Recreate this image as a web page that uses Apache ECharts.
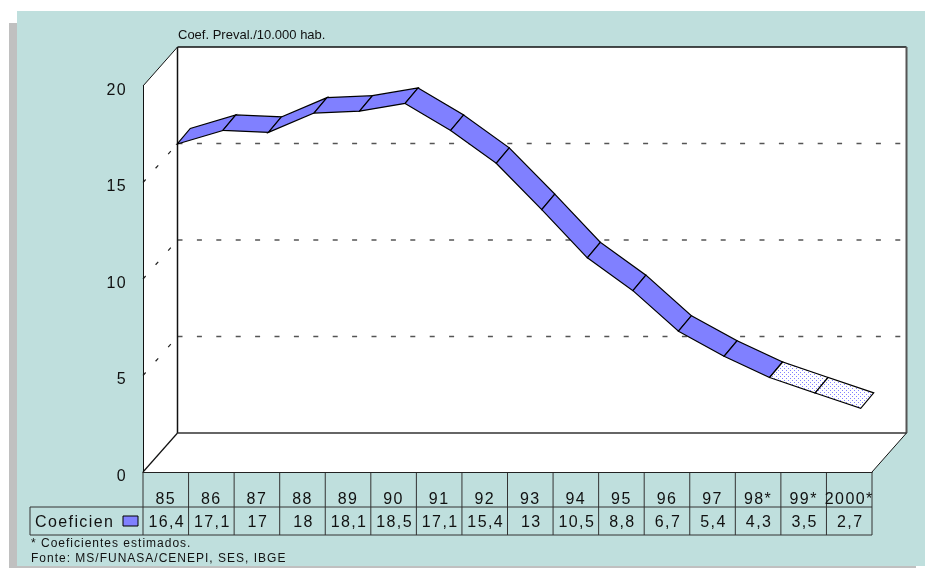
<!DOCTYPE html>
<html><head><meta charset="utf-8">
<style>html,body{margin:0;padding:0;background:#fff}#c{width:930px;height:568px}</style>
<script src="https://cdn.jsdelivr.net/npm/echarts@6/dist/echarts.min.js"></script>
</head><body><div id="c"></div>
<script>
const categories = ['85','86','87','88','89','90','91','92','93','94','95','96','97','98*','99*','2000*'];
const values = [16.4,17.1,17,18,18.1,18.5,17.1,15.4,13,10.5,8.8,6.7,5.4,4.3,3.5,2.7];
const valueLabels = ['16,4','17,1','17','18','18,1','18,5','17,1','15,4','13','10,5','8,8','6,7','5,4','4,3','3,5','2,7'];
const estimatedFrom = 13;
const wallGridValues = [5,10,15];
const seriesName = 'Coeficien';

// wide tracking of the original's stretched text, keyed by font size
const spacing = {16:'1.4px',13:'0px',12:'1px'};
const P = CanvasRenderingContext2D.prototype, ft = P.fillText, mt = P.measureText;
function track(c){const m=/(\d+(?:\.\d+)?)px/.exec(c.font);c.letterSpacing=(m&&spacing[+m[1]])||'0px';}
P.fillText=function(){track(this);return ft.apply(this,arguments);};
P.measureText=function(){track(this);return mt.apply(this,arguments);};

const DX=34.5, DY=39;
const FRONT=[11.5,-11.5], BACK=[24.5,-27];
const ROW1=35, ROW2=63, LABEL_LEFT=30;
const BLUE='#8080FF', TEAL='#BFDFDD', FONT='"Liberation Sans",Arial,sans-serif';

const pat=document.createElement('canvas');pat.width=pat.height=4;
const pc=pat.getContext('2d');pc.fillStyle='#fff';pc.fillRect(0,0,4,4);pc.fillStyle=BLUE;pc.fillRect(0,0,1,1);pc.fillRect(2,2,1,1);

const line=(x1,y1,x2,y2,stroke,lineWidth,extra)=>({type:'line',shape:{x1,y1,x2,y2},style:Object.assign({stroke,lineWidth:lineWidth||1,fill:null},extra||{})});
const poly=(points,fill,stroke)=>({type:'polygon',shape:{points},style:{fill,stroke:stroke||null,lineWidth:1.2,lineJoin:'miter'}});

function renderWalls(p,api){
  const n=categories.length, bw=api.size([1,0])[0];
  const a=api.coord([0,0]), b=api.coord([n-1,20]);
  const L=a[0]-bw/2, R=b[0]+bw/2, Y0=a[1], Y1=b[1];
  const ch=[
    poly([[L+DX,Y1-DY],[R+DX,Y1-DY],[R+DX,Y0-DY],[L+DX,Y0-DY]],'#fff'),
    poly([[L,Y1],[L+DX,Y1-DY],[L+DX,Y0-DY],[L,Y0]],'#fff'),
    poly([[L,Y0],[R,Y0],[R+DX,Y0-DY],[L+DX,Y0-DY]],'#fff')
  ];
  wallGridValues.forEach(v=>{
    const y=api.coord([0,v])[1];
    ch.push(line(L+DX,y-DY,R+DX,y-DY,'#555',1.5,{lineDash:[5,14.4]}));
    ch.push(line(L,y,L+DX,y-DY,'#222',1.2,{lineDash:[4,15]}));
  });
  ch.push(line(L+DX,Y1-DY,R+DX,Y1-DY,'#111',1.5));
  ch.push(line(L+DX,Y1-DY,L+DX,Y0-DY,'#111',1.5));
  ch.push(line(R+DX,Y1-DY,R+DX,Y0-DY,'#555',2));
  ch.push(line(L+DX,Y0-DY,R+DX,Y0-DY,'#333',1.5));
  ch.push(line(L,Y1,L+DX,Y1-DY,'#111',1));
  ch.push(line(L,Y0,L+DX,Y0-DY,'#111',1.2));
  ch.push(line(R,Y0,R+DX,Y0-DY,'#111',1));
  return {type:'group',children:ch};
}
function renderRibbon(p,api){
  const i=api.value(0), a=api.coord([i,api.value(1)]), b=api.coord([i+1,api.value(2)]);
  const q=[[a[0]+FRONT[0],a[1]+FRONT[1]],[b[0]+FRONT[0],b[1]+FRONT[1]],[b[0]+BACK[0],b[1]+BACK[1]],[a[0]+BACK[0],a[1]+BACK[1]]];
  return poly(q,i>=estimatedFrom?{image:pat,repeat:'repeat'}:BLUE,'#000');
}
function renderTable(p,api){
  const i=api.value(0), c=api.coord([i,0]), bw=api.size([1,0])[0], L=c[0]-bw/2, R=L+bw, Y=c[1];
  const ch=[line(R,Y,R,Y+ROW2,'#333',1)];
  const txt=(x,text,align)=>({type:'text',style:{x,y:Y+51,text,font:'16px '+FONT,fill:'#111',align,verticalAlign:'middle'}});
  if(i===0){
    const W=bw*categories.length;
    ch.push(line(L,Y,L,Y+ROW2,'#333',1));
    ch.push(line(LABEL_LEFT,Y+ROW1,L+W,Y+ROW1,'#333',1));
    ch.push(line(LABEL_LEFT,Y+ROW2,L+W,Y+ROW2,'#333',1));
    ch.push(line(LABEL_LEFT,Y+ROW1,LABEL_LEFT,Y+ROW2,'#333',1));
    ch.push(txt(LABEL_LEFT+5,seriesName,'left'));
    ch.push({type:'rect',shape:{x:L-20,y:Y+44,width:15,height:10},style:{fill:BLUE,stroke:'#000',lineWidth:1}});
  }
  ch.push(txt(c[0]+1,valueLabels[i],'center'));
  return {type:'group',children:ch};
}

const chart=echarts.init(document.getElementById('c'),null,{renderer:'canvas',width:930,height:568});
chart.setOption({
  animation:false,
  backgroundColor:'#fff',
  graphic:[
    {type:'rect',z:-2,silent:true,shape:{x:9,y:23,width:907,height:545},style:{fill:'#C0C0C0'}},
    {type:'rect',z:-1,silent:true,shape:{x:17,y:11,width:908,height:555},style:{fill:TEAL}},
    {type:'text',z:10,left:178,top:29,style:{text:'Coef. Preval./10.000 hab.',font:'13px '+FONT,fill:'#111'}},
    {type:'text',z:10,left:31,top:537,style:{text:'* Coeficientes estimados.',font:'12px '+FONT,fill:'#111'}},
    {type:'text',z:10,left:31,top:552,style:{text:'Fonte: MS/FUNASA/CENEPI, SES, IBGE',font:'12px '+FONT,fill:'#111'}}
  ],
  grid:{left:143,right:58,top:86,bottom:96,containLabel:false},
  xAxis:{type:'category',data:categories,z:5,boundaryGap:true,
    axisLine:{show:true,lineStyle:{color:'#222',width:1}},axisTick:{show:false},splitLine:{show:false},
    axisLabel:{interval:0,margin:19,color:'#111',fontFamily:FONT,fontSize:16,hideOverlap:false}},
  yAxis:{type:'value',min:0,max:20,interval:5,z:5,
    axisLine:{show:true,lineStyle:{color:'#111',width:1}},axisTick:{show:false},splitLine:{show:false},
    axisLabel:{margin:16,color:'#111',fontFamily:FONT,fontSize:16,verticalAlign:'top',lineHeight:9}},
  series:[
    {type:'custom',name:'walls',z:1,silent:true,renderItem:renderWalls,data:[[0,0]],encode:{x:0,y:1}},
    {type:'custom',name:seriesName,z:2,silent:true,renderItem:renderRibbon,
      data:values.slice(0,-1).map((v,i)=>[i,v,values[i+1]]),encode:{x:0,y:1}},
    {type:'custom',name:'table',z:3,silent:true,renderItem:renderTable,
      data:values.map((v,i)=>[i,v]),encode:{x:0,y:1}}
  ]
});
</script></body></html>
